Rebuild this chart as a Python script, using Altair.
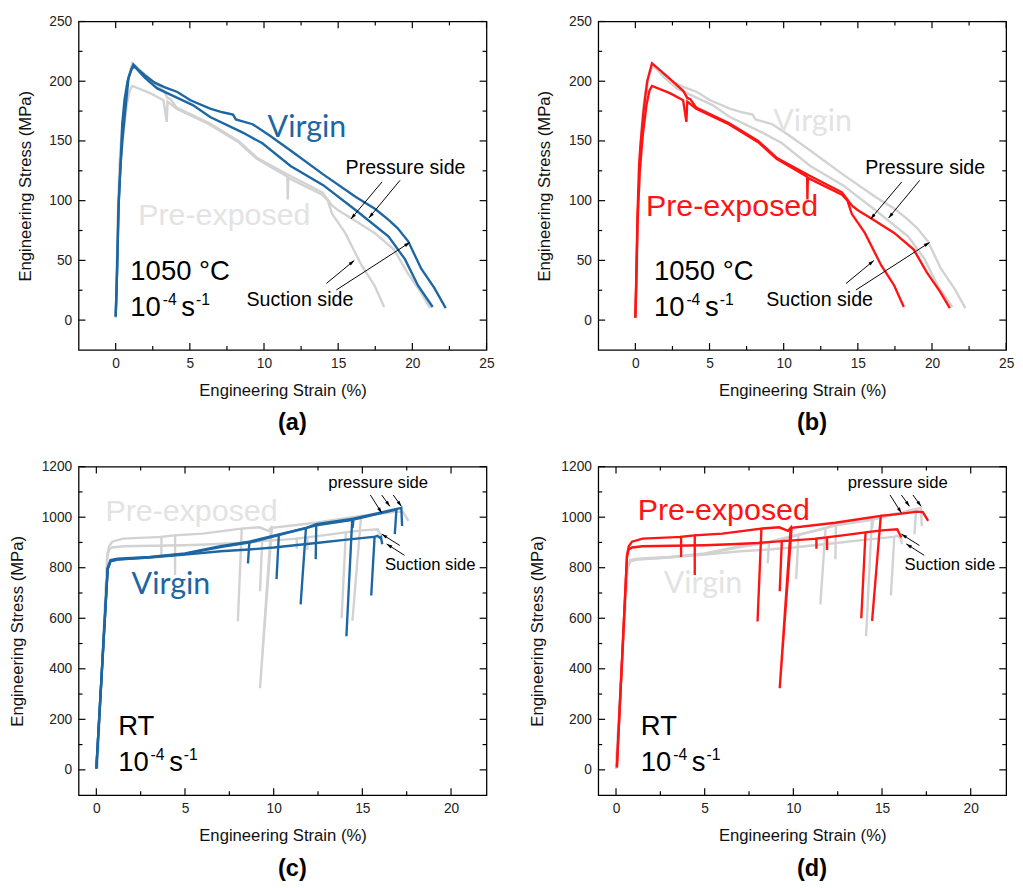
import math
import altair as alt
import pandas as pd

BLUE = "#1c66a3"
RED = "#ff1414"
GREY = "#d2d2d2"
GREY_TEXT = "#e3e3e3"
FONT = "Liberation Sans"
BIG_FONT = "Lato"

W, H = 416, 335

# ---------------- 1050 °C (panels a, b) ----------------
hot_virgin_suction_strain = [0.0, 0.05, 0.1, 0.2, 0.33, 0.44, 0.6, 0.8, 1.0, 1.19, 1.5, 1.96, 2.6, 3.28, 4.16, 5.04, 6.37, 7.2, 7.91, 8.1, 9.23, 10.33, 11.79, 13.99, 16.19, 17.5, 18.4, 19.0, 19.72, 20.6, 21.48, 22.25]
hot_virgin_suction_stress = [3, 20, 45, 98, 131, 164, 185, 200, 208, 214, 210, 205, 199, 195, 191, 184, 177, 174, 172, 168, 164, 155, 142, 122, 103, 93, 84, 77, 66, 43, 27, 10]

hot_virgin_pressure_strain = [0.0, 0.1, 0.2, 0.33, 0.45, 0.65, 0.87, 1.1, 1.3, 1.96, 2.8, 4.16, 5.2, 6.37, 8.57, 9.89, 11.79, 13.99, 16.19, 18.4, 19.5, 20.38, 21.37]
hot_virgin_pressure_stress = [3, 43, 96, 130, 150, 176, 203, 211, 212, 203, 194, 186, 180, 170, 157, 148, 129, 113, 92, 70, 51, 29, 11]

hot_pre_pressure_strain = [0.0, 0.05, 0.15, 0.25, 0.35, 0.55, 0.8, 1.12, 1.6, 2.33, 3.22, 3.5, 3.7, 4.1, 6.3, 8.28, 9.52, 11.72, 13.93, 14.59, 15.0, 15.91, 17.45, 18.77, 19.65, 20.53, 21.2]
hot_pre_pressure_stress = [2, 30, 90, 130, 148, 175, 200, 215, 210, 202, 192, 186, 185, 178, 165, 150, 136, 121, 107, 96, 92, 85, 73, 59, 40, 24, 10]

hot_pre_suction_strain = [0.0, 0.05, 0.15, 0.3, 0.5, 0.75, 0.95, 1.12, 2.33, 3.22, 3.44, 3.5, 4.1, 6.3, 8.28, 9.52, 11.58, 11.6, 11.63, 13.93, 14.3, 14.59, 15.47, 16.57, 17.45, 18.1]
hot_pre_suction_stress = [2, 25, 85, 125, 155, 180, 192, 196, 190, 184, 166, 183, 177, 164, 149, 135, 120, 101, 119, 105, 100, 89, 73, 46, 29, 11]

# ---------------- RT (panels c, d) ----------------
rt_virgin_p1_strain = [0.0, 0.64, 0.8, 1.2, 3.0, 5.0, 7.0, 8.63, 8.55, 8.63, 10.3, 11.82, 11.52, 11.82, 12.4, 14.43, 14.1, 14.43, 15.5, 16.5, 17.2, 17.24]
rt_virgin_p1_stress = [5, 800, 830, 836, 843, 857, 885, 903, 817, 903, 932, 957, 655, 957, 972, 993, 529, 993, 1010, 1026, 1037, 965]

rt_virgin_p2_strain = [0.0, 0.64, 0.8, 1.2, 3.0, 5.0, 7.0, 8.7, 10.29, 10.16, 10.29, 12.4, 12.37, 12.4, 14.0, 14.5, 14.45, 14.5, 16.0, 16.92, 16.83]
rt_virgin_p2_stress = [5, 795, 826, 833, 841, 855, 882, 900, 929, 755, 929, 968, 834, 968, 985, 990, 958, 990, 1015, 1030, 933]

rt_virgin_s_strain = [0.0, 0.64, 0.8, 1.2, 3.0, 5.0, 7.0, 8.6, 10.0, 12.4, 14.0, 15.35, 15.69, 15.5, 15.69, 15.85, 16.0, 16.05, 16.12]
rt_virgin_s_stress = [5, 795, 825, 832, 840, 852, 865, 872, 880, 898, 910, 920, 922, 690, 922, 926, 918, 921, 893]

rt_pre_p_strain = [0.05, 0.62, 0.72, 0.9, 1.5, 3.67, 3.67, 3.67, 4.44, 4.44, 4.44, 6.0, 8.2, 7.98, 8.2, 9.2, 9.7, 9.85, 9.23, 9.9, 12.36, 14.93, 14.44, 14.93, 16.0, 17.0, 17.3, 17.6]
rt_pre_p_stress = [10, 850, 885, 903, 915, 922, 842, 922, 928, 771, 928, 935, 955, 587, 955, 960, 946, 958, 323, 958, 978, 1005, 590, 1005, 1013, 1022, 1020, 985]

rt_pre_s_strain = [0.05, 0.62, 0.72, 0.9, 1.5, 5.0, 6.5, 8.0, 9.35, 9.23, 9.35, 10.0, 11.3, 11.3, 11.3, 11.9, 11.9, 11.9, 13.0, 14.07, 13.83, 14.07, 15.0, 15.86, 16.04, 16.1]
rt_pre_s_stress = [10, 845, 872, 880, 885, 889, 893, 898, 905, 707, 905, 908, 915, 875, 915, 920, 870, 920, 930, 940, 600, 940, 948, 952, 926, 920]

# ---------------- axes ----------------
hot_x_domain = [-2.5, 25]
hot_y_domain = [-25, 250]
hot_x_major = [0, 5, 10, 15, 20, 25]
hot_x_minor = [2.5, 7.5, 12.5, 17.5, 22.5]
hot_y_major = [0, 50, 100, 150, 200, 250]
hot_y_minor = [25, 75, 125, 175, 225]

rt_x_domain = [-1, 22]
rt_y_domain = [-100, 1200]
rt_x_major = [0, 5, 10, 15, 20]
rt_x_minor = [2.5, 7.5, 12.5, 17.5]
rt_y_major = [0, 200, 400, 600, 800, 1000, 1200]
rt_y_minor = [100, 300, 500, 700, 900, 1100]

# ---------------- annotations ----------------
hot_arrow_x1 = [17.96, 19.17, 14.21, 14.87]
hot_arrow_y1 = [115.7, 117.0, 30.7, 25.2]
hot_arrow_x2 = [15.86, 17.07, 16.08, 19.83]
hot_arrow_y2 = [84.7, 85.5, 49.9, 65.0]

rt_arrow_x1 = [15.45, 16.09, 16.74, 17.11, 17.38]
rt_arrow_y1 = [1088, 1088, 1088, 888, 849]
rt_arrow_x2 = [16.09, 16.55, 17.2, 16.09, 16.37]
rt_arrow_y2 = [1017, 1043, 1043, 933, 894]

# label positions (strain, stress) per panel
a_virgin_pos = [10.24, 153]
a_pre_pos = [1.52, 80]
a_temp_pos = [0.99, 33.5]
a_rate_pos = [0.99, 3.3]
b_virgin_pos = [9.3, 158.7]
b_pre_pos = [0.71, 87]
b_temp_pos = [1.26, 33.5]
b_rate_pos = [1.26, 3.3]
hot_pressure_pos = [15.5, 122.5]
hot_suction_pos = [8.82, 11.5]

c_virgin_pos = [1.99, 696]
c_pre_pos = [0.51, 985]
c_rt_pos = [1.23, 137]
c_rate_pos = [1.23, -3]
d_virgin_pos = [2.69, 698]
d_pre_pos = [1.22, 987]
d_rt_pos = [1.4, 137]
d_rate_pos = [1.4, -3]
rt_pressure_pos = [13.07, 1114]
rt_suction_pos = [16.27, 791]


def curves_df(pairs):
    frames = []
    for name, xs, ys in pairs:
        frames.append(pd.DataFrame({"x": xs, "y": ys, "i": list(range(len(xs))), "c": name}))
    return pd.concat(frames, ignore_index=True)


hot_virgin = [("hv_s", hot_virgin_suction_strain, hot_virgin_suction_stress),
              ("hv_p", hot_virgin_pressure_strain, hot_virgin_pressure_stress)]
hot_pre = [("hp_p", hot_pre_pressure_strain, hot_pre_pressure_stress),
           ("hp_s", hot_pre_suction_strain, hot_pre_suction_stress)]
rt_virgin = [("rv_p1", rt_virgin_p1_strain, rt_virgin_p1_stress),
             ("rv_p2", rt_virgin_p2_strain, rt_virgin_p2_stress),
             ("rv_s", rt_virgin_s_strain, rt_virgin_s_stress)]
rt_pre = [("rp_p", rt_pre_p_strain, rt_pre_p_stress),
          ("rp_s", rt_pre_s_strain, rt_pre_s_stress)]


def panel(grey_curves, color_curves, color, xd, yd, xmaj, xmin_, ymaj, ymin_,
          big_texts, small_texts, rate_texts, arrows, label):
    xs = alt.Scale(domain=xd, nice=False, zero=False)
    ys = alt.Scale(domain=yd, nice=False, zero=False)
    xaxis = alt.Axis(values=xmaj, title="Engineering Strain (%)", labelFlush=False, format="d")
    yaxis = alt.Axis(values=ymaj, title="Engineering Stress (MPa)", labelFlush=False, format="d")

    def X(f):
        return alt.X(f, type="quantitative", scale=xs, axis=xaxis)

    def Y(f):
        return alt.Y(f, type="quantitative", scale=ys, axis=yaxis)

    layers = []
    layers.append(alt.Chart(curves_df(grey_curves)).mark_line(color=GREY, strokeWidth=2.4).encode(
        x=X("x"), y=Y("y"), detail="c:N", order="i:Q"))
    layers.append(alt.Chart(curves_df(color_curves)).mark_line(color=color, strokeWidth=2.4).encode(
        x=X("x"), y=Y("y"), detail="c:N", order="i:Q"))

    # inward ticks on all four sides
    for vals, L in ((xmaj, 7), (xmin_, 4)):
        base = alt.Chart(pd.DataFrame({"v": vals})).mark_rule(color="black", strokeWidth=1.2)
        layers.append(base.encode(x=X("v"), y=alt.value(H), y2=alt.value(H - L)))
        layers.append(base.encode(x=X("v"), y=alt.value(0), y2=alt.value(L)))
    for vals, L in ((ymaj, 7), (ymin_, 4)):
        base = alt.Chart(pd.DataFrame({"v": vals})).mark_rule(color="black", strokeWidth=1.2)
        layers.append(base.encode(y=Y("v"), x=alt.value(0), x2=alt.value(L)))
        layers.append(base.encode(y=Y("v"), x=alt.value(W), x2=alt.value(W - L)))

    def text(t, pos, col, size, font, dx=0, dy=0):
        df = pd.DataFrame({"x": [pos[0]], "y": [pos[1]], "t": [t]})
        return alt.Chart(df).mark_text(align="left", baseline="alphabetic", color=col, fontSize=size,
                                       font=font, dx=dx, dy=dy).encode(x=X("x"), y=Y("y"), text="t:N")

    for t, pos, col, size, font in big_texts + small_texts:
        layers.append(text(t, pos, col, size, font))
    # "10^-4 s^-1"
    rp = rate_texts
    layers.append(text("10", rp, "black", 28, FONT))
    layers.append(text("-4", rp, "black", 16, FONT, dx=33, dy=-11))
    layers.append(text("s", rp, "black", 28, FONT, dx=52))
    layers.append(text("-1", rp, "black", 16, FONT, dx=67, dy=-11))

    x1, y1, x2, y2 = arrows
    kx = W / (xd[1] - xd[0])
    ky = H / (yd[1] - yd[0])
    ang = [(math.degrees(math.atan2((b - a) * kx, (d - c) * ky)) + 360) % 360
           for a, b, c, d in zip(x1, x2, y1, y2)]
    adf = pd.DataFrame({"x": x1, "y": y1, "x2": x2, "y2": y2, "ang": ang})
    layers.append(alt.Chart(adf).mark_rule(color="black", strokeWidth=1).encode(
        x=X("x"), y=Y("y"), x2="x2:Q", y2="y2:Q"))
    layers.append(alt.Chart(adf).mark_point(shape="M0,0L-0.45,1.5L0.45,1.5Z", filled=True, color="black",
                                            size=60, opacity=1).encode(
        x=X("x2"), y=Y("y2"), angle=alt.Angle("ang:Q", scale=None)))

    return alt.layer(*layers).properties(
        width=W, height=H,
        title=alt.TitleParams(label, orient="bottom", fontSize=24, fontWeight="bold", font=FONT,
                              anchor="middle", frame="group", offset=14, dx=10, color="black"))


hot_small = [("Pressure side", hot_pressure_pos, "black", 20, FONT),
             ("Suction side", hot_suction_pos, "black", 20, FONT)]
rt_small = [("pressure side", rt_pressure_pos, "black", 17, FONT),
            ("Suction side", rt_suction_pos, "black", 17, FONT)]

pa = panel(hot_pre, hot_virgin, BLUE, hot_x_domain, hot_y_domain, hot_x_major, hot_x_minor, hot_y_major, hot_y_minor,
           [("Virgin", a_virgin_pos, BLUE, 31, BIG_FONT), ("Pre-exposed", a_pre_pos, GREY_TEXT, 31, FONT),
            ("1050 °C", a_temp_pos, "black", 28, FONT)],
           hot_small, a_rate_pos, (hot_arrow_x1, hot_arrow_y1, hot_arrow_x2, hot_arrow_y2), "(a)")
pb = panel(hot_virgin, hot_pre, RED, hot_x_domain, hot_y_domain, hot_x_major, hot_x_minor, hot_y_major, hot_y_minor,
           [("Virgin", b_virgin_pos, GREY_TEXT, 31, BIG_FONT), ("Pre-exposed", b_pre_pos, RED, 31, FONT),
            ("1050 °C", b_temp_pos, "black", 28, FONT)],
           hot_small, b_rate_pos, (hot_arrow_x1, hot_arrow_y1, hot_arrow_x2, hot_arrow_y2), "(b)")
pc = panel(rt_pre, rt_virgin, BLUE, rt_x_domain, rt_y_domain, rt_x_major, rt_x_minor, rt_y_major, rt_y_minor,
           [("Virgin", c_virgin_pos, BLUE, 31, BIG_FONT), ("Pre-exposed", c_pre_pos, GREY_TEXT, 31, FONT),
            ("RT", c_rt_pos, "black", 28, FONT)],
           rt_small, c_rate_pos, (rt_arrow_x1, rt_arrow_y1, rt_arrow_x2, rt_arrow_y2), "(c)")
pd_ = panel(rt_virgin, rt_pre, RED, rt_x_domain, rt_y_domain, rt_x_major, rt_x_minor, rt_y_major, rt_y_minor,
            [("Virgin", d_virgin_pos, GREY_TEXT, 31, BIG_FONT), ("Pre-exposed", d_pre_pos, RED, 31, FONT),
             ("RT", d_rt_pos, "black", 28, FONT)],
            rt_small, d_rate_pos, (rt_arrow_x1, rt_arrow_y1, rt_arrow_x2, rt_arrow_y2), "(d)")

chart = alt.vconcat(
    alt.hconcat(pa, pb, spacing=40),
    alt.hconcat(pc, pd_, spacing=40),
    spacing=23,
).properties(
    padding={"left": 0, "top": -3, "right": 0, "bottom": 0}
).configure_view(
    stroke="black", strokeWidth=1.3
).configure_axis(
    domain=False, ticks=False, grid=False,
    labelFont=FONT, labelFontSize=14, labelColor="#222",
    titleFont=FONT, titleFontSize=17, titleFontWeight="normal", titleColor="#111",
    labelPadding=7,
).configure_axisX(titlePadding=12).configure_axisY(titlePadding=15)

chart.save("out.html", embed_options={"renderer": "svg", "actions": False})
